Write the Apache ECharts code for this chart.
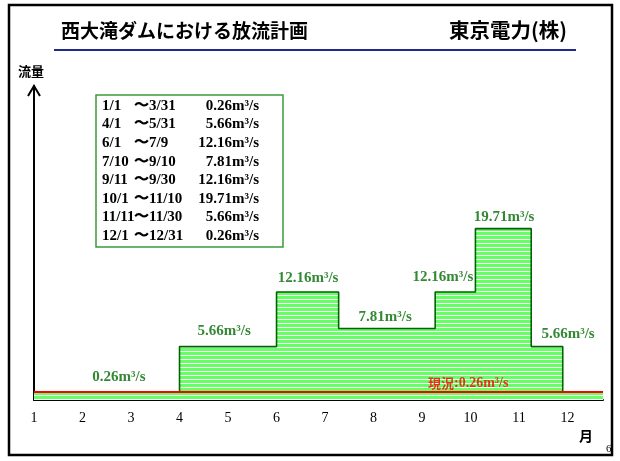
<!DOCTYPE html>
<html>
<head>
<meta charset="utf-8">
<style>
  html, body { margin: 0; padding: 0; background: #fff; }
  #chart { width: 620px; height: 461px; }
</style>
<script src="https://cdn.jsdelivr.net/npm/echarts@6/dist/echarts.min.js"></script>
</head>
<body>
<div id="chart"></div>
<script>
// Release plan periods and flows (m³/s)
const periodStart = ['1/1', '4/1', '6/1', '7/10', '9/11', '10/1', '11/11', '12/1'];
const periodEnd   = ['3/31', '5/31', '7/9', '9/10', '9/30', '11/10', '11/30', '12/31'];
const flow        = [0.26, 5.66, 12.16, 7.81, 12.16, 19.71, 5.66, 0.26];
// Start of each period on the month axis (1 = Jan 1)
const stepMonth   = [1, 4, 6, 7.28, 9.27, 10.1, 11.25, 11.9];
const yearEnd     = 12.73;
const monthTicks  = [1, 2, 3, 4, 5, 6, 7, 8, 9, 10, 11, 12];
const currentFlow = 0.26;

// Where each flow label sits along the month axis, and its lift above the step (px)
const labelMonth = [2.75, 4.92, 6.65, 8.24, 9.43, 10.69, 12.01];
const labelLift  = [15, 15, 14, 11, 15, 12, 12];
const currentLabelMonth = 9.95;

const unit = 'm³/s';
const fmt = v => v.toFixed(2) + unit;

// striped green fill
function stripePattern() {
  const c = document.createElement('canvas');
  c.width = 8; c.height = 4;
  const g = c.getContext('2d');
  g.fillStyle = '#66ff66';
  g.fillRect(0, 0, 8, 4);
  g.fillStyle = '#ffffff';
  g.fillRect(0, 3, 8, 1);
  return c;
}

const stepData = stepMonth.map((m, i) => [m, flow[i]]);
stepData.push([yearEnd, flow[flow.length - 1]]);

const labelData = labelMonth.map((m, i) => ({
  value: [m, flow[i]],
  label: { offset: [0, -labelLift[i]] }
}));

const serif = '"Liberation Serif", "Times New Roman", serif';
const gothic = '"Noto Sans CJK JP", "Noto Sans", sans-serif';
const labelGreen = '#006a00';

// legend table rows
const rowTop = 107, rowGap = 18.57;
const tableText = [];
periodStart.forEach((s, i) => {
  const y = rowTop + i * rowGap;
  const base = { fontFamily: serif, fontWeight: 'bold', fontSize: 15, fill: '#000' };
  tableText.push({ type: 'text', left: 102, top: y - 8.5, style: Object.assign({ text: s }, base) });
  tableText.push({ type: 'text', left: 134, top: y - 8.5, style: Object.assign({ text: '〜' + periodEnd[i] }, base) });
  tableText.push({ type: 'text', right: 620 - 259, top: y - 8.5, style: Object.assign({ text: fmt(flow[i]) }, base) });
});

const chart = echarts.init(document.getElementById('chart'), null, { renderer: 'canvas' });
chart.setOption({
  animation: false,
  backgroundColor: '#fff',
  grid: { left: 34, right: 17, top: 86, bottom: 61 },
  xAxis: {
    type: 'value',
    min: 1, max: yearEnd, interval: 1,
    axisLine: { show: true, onZero: false, lineStyle: { color: '#000', width: 2 } },
    axisTick: { show: false },
    splitLine: { show: false },
    axisLabel: {
      margin: 11,
      color: '#000',
      fontFamily: serif,
      fontSize: 14,
      formatter: v => monthTicks.includes(v) ? String(v) : ''
    }
  },
  yAxis: {
    type: 'value',
    min: -0.7, max: 36.7,
    axisLine: { show: true, onZero: false, lineStyle: { color: '#000', width: 2 } },
    axisTick: { show: false },
    axisLabel: { show: false },
    splitLine: { show: false }
  },
  series: [
    {
      type: 'line',
      step: 'end',
      data: stepData,
      symbol: 'none',
      lineStyle: { color: '#006400', width: 1.6 },
      areaStyle: { origin: 'start', color: { image: stripePattern(), repeat: 'repeat' }, opacity: 1 },
      z: 2
    },
    {
      type: 'line',
      data: [[1, currentFlow], [yearEnd, currentFlow]],
      symbol: 'none',
      lineStyle: { color: '#ff0000', width: 2 },
      z: 3
    },
    {
      type: 'scatter',
      data: labelData,
      symbolSize: 0.1,
      itemStyle: { color: 'transparent' },
      label: {
        show: true,
        position: 'inside',
        formatter: p => fmt(p.value[1]),
        color: labelGreen,
        fontFamily: serif,
        fontWeight: 'bold',
        fontSize: 15
      },
      z: 5
    },
    {
      type: 'scatter',
      data: [{ value: [currentLabelMonth, currentFlow] }],
      symbolSize: 0.1,
      itemStyle: { color: 'transparent' },
      label: {
        show: true,
        position: 'inside',
        offset: [0, -9],
        formatter: p => '{a|現況}{b|:' + fmt(p.value[1]) + '}',
        rich: {
          a: { color: '#ff0000', fontFamily: gothic, fontWeight: 'bold', fontSize: 13 },
          b: { color: '#ff0000', fontFamily: serif, fontWeight: 'bold', fontSize: 14 }
        }
      },
      z: 5
    }
  ],
  graphic: [
    // frame
    { type: 'rect', shape: { x: 9, y: 5, width: 603, height: 450 }, style: { fill: 'none', stroke: '#000', lineWidth: 2.5 }, z: 10 },
    // heading
    { type: 'text', left: 61, top: 21, style: { text: '西大滝ダムにおける放流計画', fontFamily: gothic, fontWeight: 'bold', fontSize: 19, fill: '#000' } },
    { type: 'text', left: 449, top: 20, style: { text: '東京電力(株)', fontFamily: gothic, fontWeight: 'bold', fontSize: 20.5, fill: '#000' } },
    { type: 'line', shape: { x1: 54, y1: 50, x2: 576, y2: 50 }, style: { stroke: '#1f2a8c', lineWidth: 2.2 } },
    // axis names
    { type: 'text', left: 18, top: 65, style: { text: '流量', fontFamily: gothic, fontWeight: 'bold', fontSize: 13, fill: '#000' } },
    { type: 'text', left: 579, top: 429, style: { text: '月', fontFamily: gothic, fontWeight: 'bold', fontSize: 14, fill: '#000' } },
    { type: 'text', left: 606, top: 444, style: { text: '6', fontFamily: serif, fontSize: 11, fill: '#000' } },
    // arrow head on flow axis
    { type: 'polyline', shape: { points: [[28, 96], [34, 86], [40, 96]] }, style: { stroke: '#000', lineWidth: 2, fill: 'none' }, z: 10 },
    // period table
    { type: 'rect', shape: { x: 96, y: 95, width: 187, height: 152 }, style: { fill: '#fff', stroke: '#3a9a3a', lineWidth: 1.5 } }
  ].concat(tableText)
});
</script>
</body>
</html>
